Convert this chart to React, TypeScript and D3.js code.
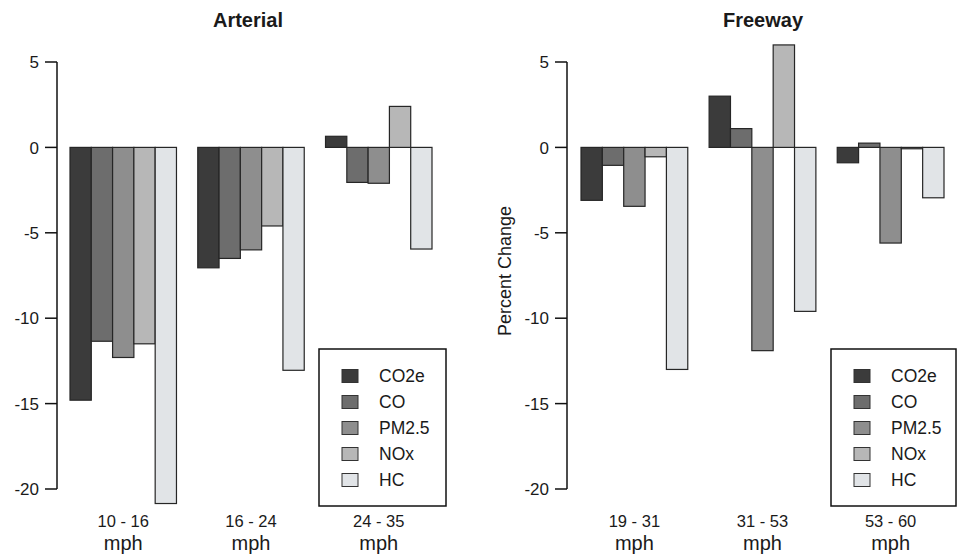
import React from "react";
import * as d3 from "d3";

const pollutants = ["CO2e", "CO", "PM2.5", "NOx", "HC"];
const pollutantColors = ["#3b3b3b", "#6d6d6d", "#8e8e8e", "#b7b7b7", "#e1e4e7"];

const arterialGroups = ["10 - 16", "16 - 24", "24 - 35"];
const arterialCO2e = [-14.8, -7.05, 0.65];
const arterialCO = [-11.35, -6.5, -2.05];
const arterialPM25 = [-12.3, -6.0, -2.1];
const arterialNOx = [-11.5, -4.6, 2.4];
const arterialHC = [-20.85, -13.05, -5.95];

const freewayGroups = ["19 - 31", "31 - 53", "53 - 60"];
const freewayCO2e = [-3.1, 3.0, -0.9];
const freewayCO = [-1.05, 1.1, 0.25];
const freewayPM25 = [-3.45, -11.9, -5.6];
const freewayNOx = [-0.55, 6.0, -0.08];
const freewayHC = [-13.0, -9.6, -2.95];

const yTicks = [5, 0, -5, -10, -15, -20];
const unitLabel = "mph";

const FONT = "'Liberation Sans', Arial, Helvetica, sans-serif";

const y = d3.scaleLinear().domain([-20, 5]).range([489, 62]);

type PanelProps = {
  title: string;
  titleX: number;
  groups: string[];
  series: number[][];
  axisX: number;
  barStart: number;
  barEnd: number;
  legendX: number;
  legendW: number;
  yLabel?: string;
};

function Panel(p: PanelProps) {
  const x0 = d3
    .scaleBand<string>()
    .domain(p.groups)
    .range([p.barStart, p.barEnd])
    .paddingInner(1 / 6)
    .paddingOuter(0);
  const x1 = d3
    .scaleBand<string>()
    .domain(pollutants)
    .range([0, x0.bandwidth()]);
  const color = d3.scaleOrdinal<string, string>().domain(pollutants).range(pollutantColors);

  const legendTop = 349;
  const legendH = 157;
  const rowY = (i: number) => 376 + i * 26;

  return (
    <g>
      <text
        x={p.titleX}
        y={27}
        textAnchor="middle"
        fontFamily={FONT}
        fontWeight="bold"
        fontSize={20}
        fill="#1a1a1a"
      >
        {p.title}
      </text>
      {p.groups.map((g, gi) => (
        <g key={g} transform={`translate(${x0(g)},0)`}>
          {pollutants.map((pol, pi) => {
            const v = p.series[pi][gi];
            const top = y(Math.max(0, v));
            const bot = y(Math.min(0, v));
            return (
              <rect
                key={pol}
                x={x1(pol)}
                y={top}
                width={x1.bandwidth()}
                height={Math.max(0.8, bot - top)}
                fill={color(pol)}
                stroke="#262626"
                strokeWidth={1.2}
              />
            );
          })}
        </g>
      ))}
      <line x1={p.axisX} x2={p.axisX} y1={y(5)} y2={y(-20)} stroke="#111" strokeWidth={1.5} />
      {yTicks.map((t) => (
        <g key={t}>
          <line x1={p.axisX - 12} x2={p.axisX} y1={y(t)} y2={y(t)} stroke="#111" strokeWidth={1.5} />
          <text
            x={p.axisX - 18}
            y={y(t)}
            dy="0.36em"
            textAnchor="end"
            fontFamily={FONT}
            fontSize={17}
            fill="#1a1a1a"
          >
            {t}
          </text>
        </g>
      ))}
      {p.groups.map((g) => {
        const cx = (x0(g) as number) + x0.bandwidth() / 2;
        return (
          <g key={g}>
            <text x={cx} y={527} textAnchor="middle" fontFamily={FONT} fontSize={16.5} fill="#1a1a1a">
              {g}
            </text>
            <text x={cx} y={550} textAnchor="middle" fontFamily={FONT} fontSize={20} fill="#1a1a1a">
              {unitLabel}
            </text>
          </g>
        );
      })}
      {p.yLabel && (
        <text
          transform={`translate(511,271) rotate(-90)`}
          textAnchor="middle"
          fontFamily={FONT}
          fontSize={18}
          fill="#1a1a1a"
        >
          {p.yLabel}
        </text>
      )}
      <rect
        x={p.legendX}
        y={legendTop}
        width={p.legendW}
        height={legendH}
        fill="white"
        stroke="#111"
        strokeWidth={1.5}
      />
      {pollutants.map((pol, i) => (
        <g key={pol}>
          <rect
            x={p.legendX + 23}
            y={rowY(i) - 6.5}
            width={16}
            height={13}
            fill={color(pol)}
            stroke="#333"
            strokeWidth={1}
          />
          <text
            x={p.legendX + 60}
            y={rowY(i)}
            dy="0.36em"
            fontFamily={FONT}
            fontSize={17.5}
            fill="#1a1a1a"
          >
            {pol}
          </text>
        </g>
      ))}
    </g>
  );
}

export default function App() {
  return (
    <svg
      width={957}
      height={557}
      style={{ position: "absolute", left: 0, top: 0, background: "white" }}
    >
      <rect x={0} y={0} width={957} height={557} fill="white" />
      <Panel
        title="Arterial"
        titleX={248}
        groups={arterialGroups}
        series={[arterialCO2e, arterialCO, arterialPM25, arterialNOx, arterialHC]}
        axisX={57}
        barStart={70}
        barEnd={432}
        legendX={319}
        legendW={127}
      />
      <Panel
        title="Freeway"
        titleX={763}
        groups={freewayGroups}
        series={[freewayCO2e, freewayCO, freewayPM25, freewayNOx, freewayHC]}
        axisX={567}
        barStart={581}
        barEnd={944}
        legendX={831}
        legendW={125}
        yLabel="Percent Change"
      />
    </svg>
  );
}
